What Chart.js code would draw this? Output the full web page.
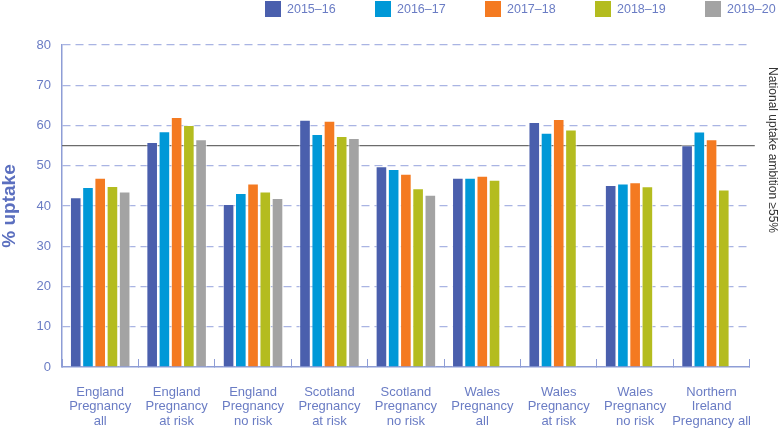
<!DOCTYPE html>
<html>
<head>
<meta charset="utf-8">
<script src="https://cdn.jsdelivr.net/npm/chart.js@4.4.1/dist/chart.umd.min.js"></script>
<style>
  html, body { margin: 0; padding: 0; background: #fff; }
  #wrap { width: 778px; height: 429px; position: relative; }
</style>
</head>
<body>
<div id="wrap"><canvas id="myChart"></canvas></div>
<script>
// categories (x axis, multi-line)
const categories = [
	['England', 'Pregnancy', 'all'],
	['England', 'Pregnancy', 'at risk'],
	['England', 'Pregnancy', 'no risk'],
	['Scotland', 'Pregnancy', 'at risk'],
	['Scotland', 'Pregnancy', 'no risk'],
	['Wales', 'Pregnancy', 'all'],
	['Wales', 'Pregnancy', 'at risk'],
	['Wales', 'Pregnancy', 'no risk'],
	['Northern', 'Ireland', 'Pregnancy all']
];
const seriesNames = ['2015\u201316', '2016\u201317', '2017\u201318', '2018\u201319', '2019\u201320'];
const data1516 = [42.2, 55.9, 40.5, 61.4, 49.9, 47.0, 60.9, 45.2, 55.1];
const data1617 = [44.7, 58.6, 43.2, 57.9, 49.2, 47.0, 58.2, 45.6, 58.5];
const data1718 = [47.0, 62.1, 45.6, 61.2, 48.0, 47.5, 61.6, 45.9, 56.6];
const data1819 = [45.0, 60.1, 43.6, 57.4, 44.4, 46.5, 59.0, 44.9, 44.1];
const data1920 = [43.6, 56.6, 42.0, 56.9, 42.8, null, null, null, null];
const yTicks = [0, 10, 20, 30, 40, 50, 60, 70, 80];
const ambitionValue = 55;
const ambitionText = 'National uptake ambition \u226555%';

const colors = ['#4a5fad', '#0098d7', '#f47a21', '#b4bc1f', '#a3a3a3'];
const blueText = '#6a7cc4';
const FONT = "'Liberation Sans', Arial, sans-serif";

// national ambition line (behind the bars) + its rotated label
const ambitionPlugin = {
	id: 'ambition',
	beforeDatasetsDraw(chart) {
		const ctx = chart.ctx, area = chart.chartArea;
		const yy = chart.scales.y.getPixelForValue(ambitionValue);
		ctx.save();
		ctx.strokeStyle = '#6b6b6b';
		ctx.lineWidth = 1.2;
		ctx.beginPath();
		ctx.moveTo(area.left, yy);
		ctx.lineTo(area.right + 5, yy);
		ctx.stroke();
		ctx.restore();
	},
	afterDraw(chart) {
		const ctx = chart.ctx;
		ctx.save();
		ctx.translate(772, 150);
		ctx.rotate(Math.PI / 2);
		ctx.fillStyle = '#333';
		ctx.font = '12px ' + FONT;
		ctx.textAlign = 'center';
		ctx.textBaseline = 'middle';
		ctx.fillText(ambitionText, 0, 0);
		ctx.restore();
	}
};

// legend drawn by hand, top right
const legendPlugin = {
	id: 'topLegend',
	afterDraw(chart) {
		const ctx = chart.ctx;
		ctx.save();
		ctx.font = '12.5px ' + FONT;
		ctx.textBaseline = 'middle';
		chart.data.datasets.forEach(function(ds, i) {
			var x = 265 + i * 110;
			ctx.fillStyle = ds.backgroundColor;
			ctx.fillRect(x, 1, 16, 16);
			ctx.fillStyle = blueText;
			ctx.fillText(ds.label, x + 22, 9.5);
		});
		ctx.restore();
	}
};

const allData = [data1516, data1617, data1718, data1819, data1920];

var ctx = document.getElementById('myChart').getContext('2d');
var chart = new Chart(ctx, {
	type: 'bar',
	data: {
		labels: categories,
		datasets: seriesNames.map(function(name, i) {
			return {
				label: name,
				data: allData[i],
				backgroundColor: colors[i],
				borderColor: 'rgba(255,255,255,0.7)',
				borderWidth: 1,
				barPercentage: 0.95,
				categoryPercentage: 0.8
			};
		})
	},
	plugins: [ambitionPlugin, legendPlugin],
	options: {
		responsive: true,
		maintainAspectRatio: false,
		animation: false,
		layout: { padding: { top: 45, right: 19, left: 0, bottom: 0 } },
		plugins: {
			legend: { display: false },
			tooltip: { enabled: false }
		},
		scales: {
			x: {
				grid: {
					offset: true,
					drawOnChartArea: false,
					drawTicks: true,
					tickLength: -8,
					color: '#8e9dd6'
				},
				border: { color: '#8e9dd6', width: 1.5 },
				ticks: {
					color: blueText,
					font: { family: FONT, size: 13, lineHeight: 1.12 },
					padding: 26,
					maxRotation: 0,
					autoSkip: false
				},
				afterFit: function(s) { s.height = 62; }
			},
			y: {
				min: 0,
				max: 80,
				afterBuildTicks: function(s) {
					s.ticks = yTicks.map(function(v) { return { value: v }; });
				},
				grid: {
					drawTicks: false,
					color: function(c) { return c.tick && c.tick.value === 0 ? 'rgba(0,0,0,0)' : '#a9b4e3'; },
					lineWidth: 1.2
				},
				border: { color: '#8e9dd6', width: 1.5, dash: [8, 5] },
				ticks: {
					color: blueText,
					font: { family: FONT, size: 13 },
					padding: 11
				},
				title: {
					display: true,
					text: '% uptake',
					color: '#5b6fbf',
					font: { family: FONT, size: 19, weight: 'bold', lineHeight: 1 },
					padding: 0
				},
				afterFit: function(s) { s.width = 62; }
			}
		}
	}
});
</script>
</body>
</html>
